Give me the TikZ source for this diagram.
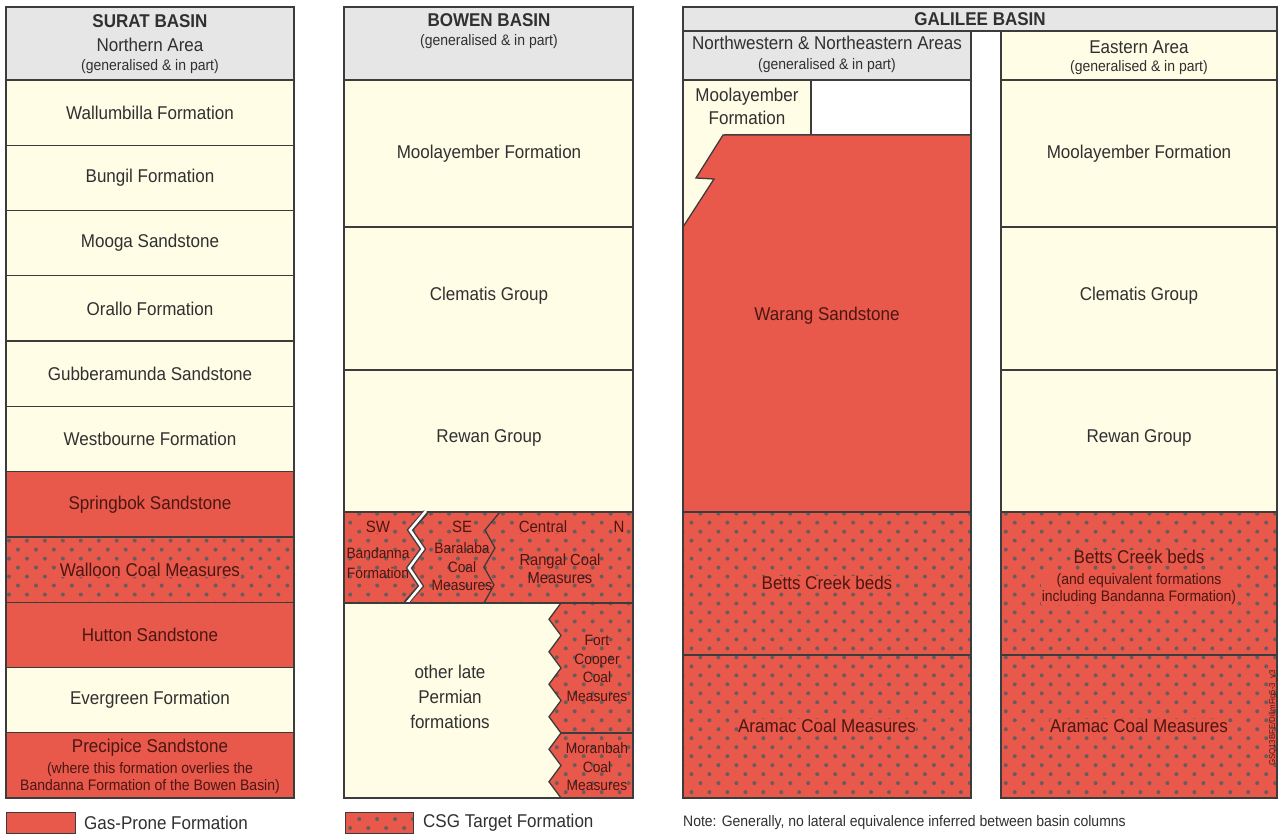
\documentclass[tikz,border=0pt]{standalone}
\usepackage{fontspec}
\setmainfont{Liberation Sans}[FakeStretch=0.92]
\usetikzlibrary{patterns.meta}
\definecolor{gasred}{HTML}{E8584B}
\definecolor{creamcol}{HTML}{FFFDE6}
\definecolor{hdrgray}{HTML}{E6E6E6}
\definecolor{bordercol}{HTML}{3C3C3C}
\definecolor{dotcol}{HTML}{6A5C5C}
\definecolor{txtcol}{HTML}{303030}
\definecolor{redtxt}{HTML}{4A1712}
\tikzset{
 cell/.style={draw=bordercol, line width=1.3pt},
 creamcell/.style={cell, fill=creamcol},
 gascell/.style={cell, fill=gasred},
 csgfill/.style={preaction={fill=gasred}, pattern={Dots[angle=45,distance=12.7pt,radius=2pt]}, pattern color=dotcol},
 csgcell/.style={cell, csgfill},
 hdrcell/.style={cell, fill=hdrgray},
 big/.style={font=\fontsize{18.5}{21}\selectfont, text=txtcol, align=center, inner sep=1pt},
 small/.style={font=\fontsize{15.2}{17}\selectfont, text=txtcol, align=center, inner sep=1pt},
 mid/.style={font=\fontsize{16.3}{18}\selectfont, text=txtcol, align=center, inner sep=1pt},
 head/.style={font=\fontsize{18.5}{21}\selectfont\bfseries, text=txtcol, inner sep=1pt},
 onred/.style={text=redtxt},
 halo/.style={fill=gasred, inner sep=0.5pt},
}
\begin{document}
\begin{tikzpicture}[x=1pt,y=-1pt]
\fill[white] (0,0) rectangle (1283,837);
\useasboundingbox (0,0) rectangle (1283,837);

% ---------------- SURAT BASIN ----------------
\draw[hdrcell] (6,7) rectangle (294,80);
\node[head] (suratT) at (150,21) {SURAT BASIN};
\node[big] (suratA) at (150,45) {Northern Area};
\node[small] (suratG) at (150,67) {(generalised \& in part)};

\draw[creamcell] (6,80) rectangle (294,145.3);
\node[big] (wallum) at (150,112.7) {Wallumbilla Formation};
\draw[creamcell] (6,145.3) rectangle (294,210.5);
\node[big] (bungil) at (150,177.9) {Bungil Formation};
\draw[creamcell] (6,210.5) rectangle (294,275.8);
\node[big] (mooga) at (150,243.2) {Mooga Sandstone};
\draw[creamcell] (6,275.8) rectangle (294,341.1);
\node[big] (orallo) at (150,308.5) {Orallo Formation};
\draw[creamcell] (6,341.1) rectangle (294,406.4);
\node[big] (gubber) at (150,373.8) {Gubberamunda Sandstone};
\draw[creamcell] (6,406.4) rectangle (294,471.6);
\node[big] (westb) at (150,439) {Westbourne Formation};
\draw[gascell] (6,471.6) rectangle (294,536.9);
\node[big,onred] (springb) at (150,504.3) {Springbok Sandstone};
\draw[csgcell] (6,536.9) rectangle (294,602.2);
\node[big,onred,halo] (walloon) at (150,569.6) {Walloon Coal Measures};
\draw[gascell] (6,602.2) rectangle (294,667.5);
\node[big,onred] (hutton) at (150,634.9) {Hutton Sandstone};
\draw[creamcell] (6,667.5) rectangle (294,732.7);
\node[big] (evergr) at (150,700.1) {Evergreen Formation};
\draw[gascell] (6,732.7) rectangle (294,798);
\node[big,onred] (precip) at (150,748) {Precipice Sandstone};
\node[small,onred] (precipN) at (150,778) {(where this formation overlies the\\Bandanna Formation of the Bowen Basin)};

% ---------------- BOWEN BASIN ----------------
\draw[hdrcell] (344,7) rectangle (633,80);
\node[head] (bowenT) at (489,20) {BOWEN BASIN};
\node[small] (bowenG) at (489,42) {(generalised \& in part)};
\draw[creamcell] (344,80) rectangle (633,227);
\node[big] (bmool) at (489,154) {Moolayember Formation};
\draw[creamcell] (344,227) rectangle (633,370);
\node[big] (bclem) at (489,296) {Clematis Group};
\draw[creamcell] (344,370) rectangle (633,512);
\node[big] (brewan) at (489,438) {Rewan Group};
\draw[csgcell] (344,512) rectangle (633,603);
% zigzag boundaries in coal row
\draw[bordercol, line width=5.4pt, line join=miter] (426,512) -- (410,530) -- (423,549) -- (409,568) -- (421,586) -- (406,603);
\draw[white, line width=2.6pt, line join=miter] (426,511) -- (410,530) -- (423,549) -- (409,568) -- (421,586) -- (406,604);
\draw[bordercol, line width=1.3pt] (500,512) -- (485,530) -- (495,548) -- (484,567) -- (494,585) -- (484,603);
\node[mid,onred,halo] (sw) at (378,527) {SW};
\node[small,onred,font=\fontsize{15}{20}\selectfont] (band) at (378,563) {Bandanna\\Formation};
\node[mid,onred,halo] (se) at (462,527) {SE};
\node[small,onred,font=\fontsize{15}{18.5}\selectfont] (baral) at (462,567) {Baralaba\\Coal\\Measures};
\node[mid,onred,halo] (central) at (543,527) {Central};
\node[mid,onred,halo] (nn) at (619,527) {N};
\node[small,onred,font=\fontsize{16}{18}\selectfont] (rangal) at (560,569) {Rangal Coal\\Measures};
% lower part
\draw[creamcell] (344,603) rectangle (633,798);
\path[csgfill] (561,603) -- (549,619.25) -- (561,635.5) -- (549,651.75) -- (561,668) -- (549,684.25) -- (561,700.5) -- (549,716.75) -- (561,733) -- (549,749.25) -- (561,765.5) -- (549,781.75) -- (561,798) -- (633,798) -- (633,603) -- cycle;
\draw[bordercol, line width=1.3pt] (561,603) -- (549,619.25) -- (561,635.5) -- (549,651.75) -- (561,668) -- (549,684.25) -- (561,700.5) -- (549,716.75) -- (561,733) -- (549,749.25) -- (561,765.5) -- (549,781.75) -- (561,798);
\coordinate (divL) at (561,733);
\coordinate (divR) at (633,733);
\draw[cell] (divL) -- (divR);
\draw[cell] (344,603) rectangle (633,798);
\node[big,font=\fontsize{18.5}{25}\selectfont] (olp) at (450,697) {other late\\Permian\\formations};
\node[small,onred,font=\fontsize{15}{18.7}\selectfont] (fortc) at (597,668.5) {Fort\\Cooper\\Coal\\Measures};
\node[small,onred,font=\fontsize{15}{18.5}\selectfont] (moran) at (597,767) {Moranbah\\Coal\\Measures};

% ---------------- GALILEE BASIN ----------------
\draw[hdrcell] (683,7) rectangle (1277,31);
\node[head] (galT) at (980,19) {GALILEE BASIN};
\draw[hdrcell] (683,31) rectangle (971,80);
\node[big] (nwA) at (827,43) {Northwestern \& Northeastern Areas};
\node[small] (nwG) at (827,66) {(generalised \& in part)};
\draw[creamcell] (1001,31) rectangle (1277,80);
\node[big] (eA) at (1139,47) {Eastern Area};
\node[small] (eG) at (1139,68) {(generalised \& in part)};

% NW column
\draw[creamcell] (683,80) rectangle (811,135);
\fill[creamcol] (683,134) -- (724,134) -- (696,178) -- (714,179) -- (683,227) -- cycle;
\draw[cell, fill=white] (811,80) rectangle (971,135);
\draw[gascell, line join=miter] (723,135) -- (971,135) -- (971,512) -- (683,512) -- (683,227) -- (714,179) -- (696,178) -- cycle;
\node[big,font=\fontsize{18.5}{23}\selectfont] (nwmool) at (747,106) {Moolayember\\Formation};
\node[big,onred] (warang) at (827,316) {Warang Sandstone};
\draw[csgcell] (683,512) rectangle (971,655);
\node[big,onred,halo] (nwbetts) at (827,583) {Betts Creek beds};
\draw[csgcell] (683,655) rectangle (971,798);
\node[big,onred,halo] (nwaram) at (827,726) {Aramac Coal Measures};
\draw[cell] (683,80) rectangle (971,798);

% Eastern column
\draw[creamcell] (1001,80) rectangle (1277,227);
\node[big] (emool) at (1139,154) {Moolayember Formation};
\draw[creamcell] (1001,227) rectangle (1277,370);
\node[big] (eclem) at (1139,296) {Clematis Group};
\draw[creamcell] (1001,370) rectangle (1277,512);
\node[big] (erewan) at (1139,438) {Rewan Group};
\draw[csgcell] (1001,512) rectangle (1277,655);
\node[big,onred,halo] (ebetts) at (1139,557) {Betts Creek beds};
\node[small,onred,halo] (ebettsN) at (1139,589) {(and equivalent formations\\including Bandanna Formation)};
\draw[csgcell] (1001,655) rectangle (1277,798);
\node[big,onred,halo] (earam) at (1139,726) {Aramac Coal Measures};
\node[rotate=90, font=\fontsize{8.5}{9}\selectfont, text=redtxt, inner sep=0pt] (code) at (1273,718) {GSQ13BFE/DilimFig5-3\_v3};

% ---------------- LEGEND ----------------
\draw[gascell, line width=0.8pt] (6,812) rectangle (75,833);
\node[big, anchor=west] (legGas) at (83,823) {Gas-Prone Formation};
\draw[csgcell, line width=0.8pt] (345,812) rectangle (413,833);
\node[big, anchor=west] (legCsg) at (422,823) {CSG Target Formation};
\node[small, anchor=west] (note) at (682,823) {Note: Generally, no lateral equivalence inferred between basin columns};
\end{tikzpicture}
\end{document}
